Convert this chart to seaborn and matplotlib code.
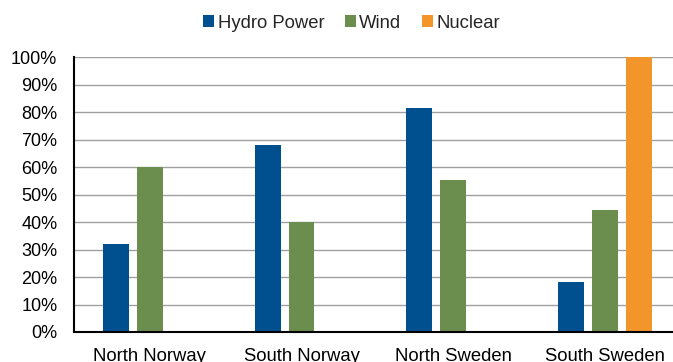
import matplotlib
matplotlib.use("Agg")
import matplotlib.pyplot as plt
import seaborn as sns
import pandas as pd
from matplotlib.ticker import FuncFormatter

regions = ["North Norway", "South Norway", "North Sweden", "South Sweden"]
sources = ["Hydro Power", "Wind", "Nuclear"]
hydro = [32, 68, 81.6, 18.1]
wind = [60, 40, 55.3, 44.4]
nuclear = [0, 0, 0, 100]
colors = ["#004F8F", "#6B8E4E", "#F2962B"]

rows = []
for src, vals in zip(sources, [hydro, wind, nuclear]):
    for reg, v in zip(regions, vals):
        rows.append({"region": reg, "source": src, "value": v})
df = pd.DataFrame(rows)

sns.set_theme(style="white")
plt.rcParams["font.family"] = ["Liberation Sans", "DejaVu Sans"]

fig = plt.figure(figsize=(6.73, 3.62), dpi=100)
ax = fig.add_axes([74 / 673, 30 / 362, (680.7 - 74) / 673, (332 - 57.3) / 362])

sns.barplot(data=df, x="region", y="value", hue="source", order=regions,
            hue_order=sources, palette=colors, width=0.667, gap=0.23,
            saturation=1, linewidth=0, ax=ax, legend=True)

ax.set_ylim(0, 100)
ax.set_xlim(-0.5, 3.5)
ax.set_yticks(range(0, 101, 10))
ax.yaxis.set_major_formatter(FuncFormatter(lambda v, p: f"{int(v)}%"))
ax.grid(axis="y", color="#a0a0a0", linewidth=1.0)
ax.set_axisbelow(True)
for s in ["top", "right"]:
    ax.spines[s].set_visible(False)
for s in ["left", "bottom"]:
    ax.spines[s].set_color("black")
    ax.spines[s].set_linewidth(1.5)
ax.tick_params(axis="both", length=0, labelsize=13, colors="black")
ax.tick_params(axis="x", pad=11.5, labelsize=13.3)
ax.tick_params(axis="y", pad=12)
ax.set_xlabel("")
ax.set_ylabel("")

handles, labels = ax.get_legend_handles_labels()
ax.legend_.remove()
fig.legend(handles, labels, loc="center", bbox_to_anchor=(351.5 / 673, 1 - 23 / 362),
           ncol=3, frameon=False, fontsize=13.3, handlelength=0.6, handleheight=0.6,
           handletextpad=0.2, columnspacing=1.1, borderpad=0, borderaxespad=0)

fig.savefig("out.png", dpi=100)
